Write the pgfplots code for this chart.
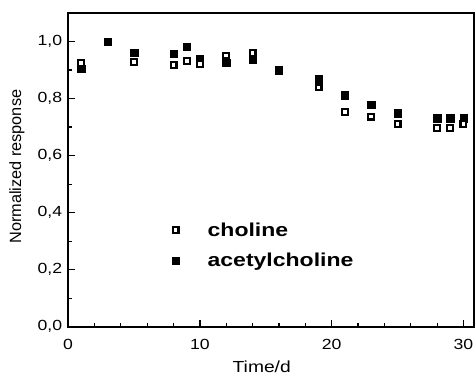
\documentclass[border=0pt]{standalone}
\usepackage{fontspec}
\setmainfont{Liberation Sans}[FakeStretch=1.2]
\newfontfamily\ylabfont{Liberation Sans}
\newfontfamily\legfont{Liberation Sans}[FakeStretch=1.23]
\usepackage{pgfplots}
\pgfplotsset{compat=1.18}
\usetikzlibrary{calc}
\pgfplotsset{wideleg/.style={legend image code/.code={\draw[##1, only marks] plot coordinates {(0pt,0pt)}; \path[draw=none,fill=none] (0pt,0pt) (22pt,0pt);}}}
\begin{document}
\begin{tikzpicture}
\begin{axis}[
  name=ax,
  scale only axis,
  width=303.75pt, height=234.75pt,
  xmin=0, xmax=30.8,
  ymin=0, ymax=1.10,
  xtick={0,10,20,30},
  ytick={0,0.2,0.4,0.6,0.8,1.0},
  minor x tick num=4,
  minor y tick num=1,
  tick align=inside,
  xtick pos=bottom, ytick pos=left,
  major tick length=5pt, minor tick length=3pt,
  tick style={line width=0.9pt,black},
  axis line style={line width=1.3pt},
  /pgf/number format/assume math mode=true,
  ticklabel style={font=\fontsize{11}{13}\selectfont},
  yticklabel style={xshift=-1pt, /pgf/number format/fixed, /pgf/number format/fixed zerofill, /pgf/number format/precision=1, /pgf/number format/use comma},
  xticklabel style={yshift=-6pt},
  xlabel={Time/d},
  ylabel={\ylabfont Normalized response},
  label style={font=\fontsize{12}{14}\selectfont},
  xlabel style={at={(axis description cs:0.477,-0.128)}, anchor=center},
  ylabel style={at={(axis description cs:-0.126,0.51)}, anchor=center, font=\fontsize{12.2}{14}\selectfont},
  legend style={at={(axis cs:7.55,0.285)}, anchor=west, draw=none, fill=none,
    row sep=7pt, font=\legfont\fontsize{14}{16}\selectfont\bfseries},
  legend cell align=left,
  clip=false,
]
\addplot[forget plot, only marks, mark=square*, mark size=2.75pt, mark options={fill=black, draw=black, line width=0.3pt}] coordinates {
(1,0.904) (3,1.0) (5,0.96) (8,0.957) (9,0.983) (10,0.94) (12,0.925) (14,0.937) (16,0.899)
(19,0.869) (21,0.812) (23,0.778) (25,0.749) (28,0.731) (29,0.731) (30,0.731)};
\addplot[forget plot, only marks, mark=square*, mark size=2.2pt, mark options={fill=white, draw=black, line width=1.6pt}] coordinates {
(1,0.925) (5,0.927) (8,0.917) (9,0.933) (10,0.921) (12,0.951) (14,0.96)
(19,0.839) (21,0.754) (23,0.737) (25,0.71) (28,0.698) (29,0.698) (30,0.712)};
\addlegendimage{only marks, mark=square*, mark size=2.2pt, mark options={fill=white, draw=black, line width=1.6pt}, wideleg}
\addlegendentry{choline}
\addlegendimage{only marks, mark=square*, mark size=2.75pt, mark options={fill=black, draw=black, line width=0.3pt}, wideleg}
\addlegendentry{acetylcholine}
\end{axis}
\pgfresetboundingbox
\path ($(ax.south west)+(-51pt,-38.25pt)$) rectangle ($(ax.north east)+(0.75pt,9.75pt)$);
\end{tikzpicture}
\end{document}
